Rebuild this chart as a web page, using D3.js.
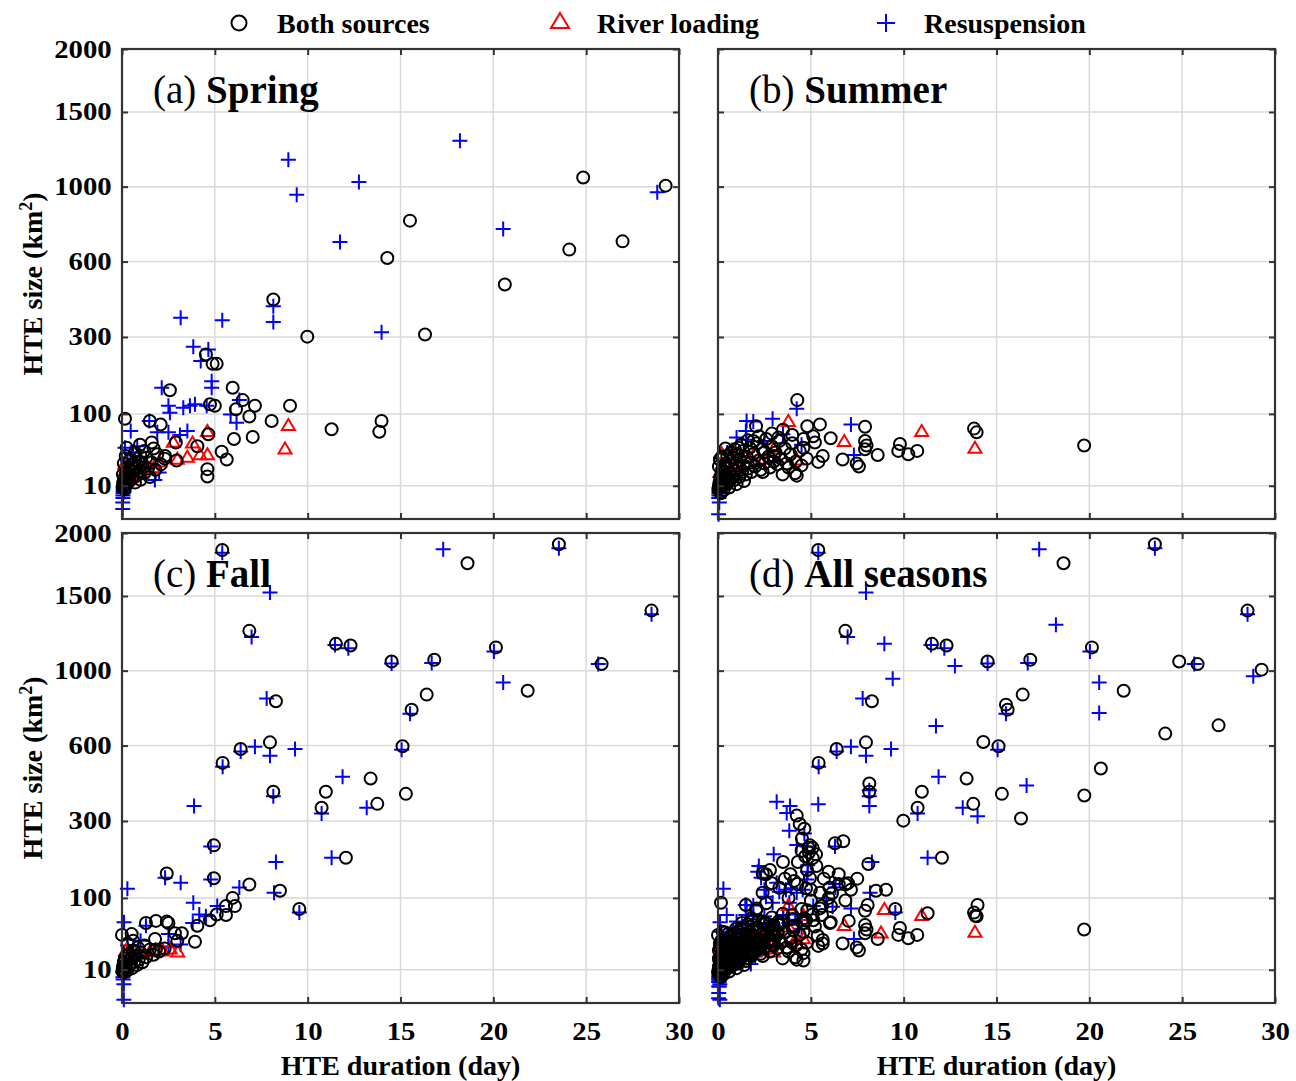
<!DOCTYPE html>
<html>
<head>
<meta charset="utf-8">
<script src="https://cdn.jsdelivr.net/npm/d3@7"></script>
<style>
  body { margin: 0; background: #fff; }
  text { font-family: "Liberation Serif", "Times New Roman", serif; }
</style>
</head>
<body>
<div id="vis"></div>
<script>
// ---- data: [duration (day), size (km2)] ----
const springBoth = [
  [15.51,806],[14.29,617],[24.84,1056],[29.28,1006],[24.09,657],[26.96,698],[20.62,498],[16.32,308],
  [8.15,436],[9.98,301],[4.52,245],[4.88,218],[5.1,218],[2.58,150],[5.96,156],[6.5,128],[7.16,116],
  [9.05,116],[4.74,119],[5.0,116],[6.14,109],[6.86,95],[8.06,87],[11.29,73],[13.98,87],[13.86,69],
  [0.16,91],[1.5,87],[2.08,81],[2.9,53],[4.65,65],[6.03,58],[7.04,61],[4.06,48],[5.37,41],[5.64,32],
  [4.6,22.5],[4.6,16.4],[2.94,31],[2.32,36],[0.97,50],[1.6,53],[0.25,46],
  [0.03,9],[0.06,12],[0.1,10],[0.12,15],[0.15,8],[0.2,13],[0.22,19],[0.25,11],[0.3,16],[0.35,22],
  [0.4,13],[0.45,18],[0.5,26],[0.55,15],[0.6,20],[0.7,12],[0.75,24],[0.8,17],[0.9,30],[0.95,21],
  [1.0,14],[1.1,27],[1.2,19],[1.3,34],[1.4,23],[1.5,16],[1.6,29],[1.8,22],[1.9,38],[2.1,27],[2.3,33],
  [0.1,28],[0.2,36],[0.4,31],[0.7,40],[1.0,36],[0.05,18],[0.3,24],[0.6,28],[1.2,42],[1.7,45]
];
const springRiver = [
  [4.6,70],[8.96,80],[8.78,45],[2.76,54],[3.8,53],[4.2,38],[4.6,38],[3.52,35],[2.98,33],
  [0.1,14],[0.2,18],[0.35,22],[0.5,16],[0.7,25],[1.0,20],[1.3,27],[1.7,24],[2.0,30],[0.15,28]
];
const springResus = [
  [8.96,1168],[9.41,952],[12.76,1028],[11.74,695],[18.2,1295],[28.83,966],[20.53,762],[8.15,410],
  [8.15,351],[3.16,367],[5.4,358],[13.98,316],[3.84,269],[4.65,260],[4.24,226],[4.83,172],[4.83,156],
  [2.14,156],[6.32,128],[4.56,116],[3.93,119],[3.66,116],[3.3,112],[2.5,116],[2.58,102],[5.85,99],
  [6.17,84],[1.47,87],[0.47,70],[1.9,68],[2.5,68],[3.52,70],[3.12,64],[2.0,19.5],[1.77,13.8],
  [0.16,46],[0.82,48],[0.3,30],[0.6,40],[1.0,35],[1.2,25],
  [0.04,2.5],[0.04,0.9],[0.05,4],[0.05,5],[0.06,6],[0.06,7],[0.07,8],[0.08,9],[0.1,6.5],[0.12,10]
];

const summerBoth = [
  [4.27,128],[2.05,78],[4.81,78],[5.49,81],[7.92,77],[13.79,74],[13.93,68],[19.72,49],[7.92,55],
  [8.0,49],[7.92,44],[9.8,51],[9.71,42],[10.25,38],[10.73,42],[8.6,37],[6.71,32],[7.47,28],[7.59,25],
  [6.07,59],[5.64,36],[5.4,29.5],[5.13,62],[5.22,53],[4.6,46],[4.78,33],[4.15,19],[4.24,17],[3.48,18],
  [2.41,20],[3.25,60],
  [0.02,8],[0.05,10],[0.08,12],[0.1,9],[0.12,15],[0.15,11],[0.18,18],[0.2,13],[0.22,22],[0.25,10],
  [0.28,16],[0.3,25],[0.33,12],[0.36,20],[0.4,14],[0.42,28],[0.45,17],[0.5,11],[0.52,23],[0.55,15],
  [0.6,30],[0.62,13],[0.66,19],[0.7,26],[0.75,16],[0.8,34],[0.85,21],[0.9,14],[0.95,28],[1.0,18],
  [1.05,38],[1.1,24],[1.15,16],[1.2,31],[1.3,20],[1.35,42],[1.4,26],[1.5,18],[1.55,35],[1.6,23],
  [1.7,46],[1.75,29],[1.8,20],[1.9,38],[2.0,25],[2.1,52],[2.2,31],[2.3,22],[2.4,44],[2.5,28],
  [2.6,58],[2.7,35],[2.8,24],[2.9,48],[3.0,30],[3.1,40],[3.2,27],[3.3,55],[3.4,33],[3.6,45],
  [3.7,28],[3.9,38],[4.0,52],[4.2,30],[4.4,42],[0.05,25],[0.1,32],[0.15,6],[0.3,7.5],[0.6,9],
  [1.0,11],[1.4,13],[0.2,35],[0.5,36],[0.9,44],[1.25,50],[1.6,56],[2.2,62],[2.9,66],[3.5,72],
  [4.0,64],[4.6,58],[0.7,40],[1.1,46],[1.9,55],[2.5,40],[3.0,36],[3.8,24],[4.5,26],[0.4,45]
];
const summerRiver = [
  [3.79,87],[10.97,70],[13.84,46],[6.8,55],[4.24,32],[0.2,39],[0.74,43],
  [0.1,20],[0.3,25],[0.5,30],[1.0,28],[1.5,35],[2.0,40],[2.5,33],[3.0,45],[0.15,15]
];
const summerResus = [
  [4.24,110],[1.54,87],[1.9,86],[2.94,91],[7.16,81],[7.32,37],[1.54,57],
  [1.0,60],[1.5,70],[2.5,55],[3.5,65],[4.5,50],[0.5,40],[3.0,30],
  [0.07,2.5],[0.03,0.2],[0.04,4],[0.05,5],[0.05,6],[0.06,7],[0.08,8],[0.1,9]
];

const fallBoth = [
  [5.4,1858],[6.86,1254],[11.52,1168],[12.31,1157],[14.52,1056],[8.29,824],[15.6,779],[15.11,597],
  [7.97,615],[6.39,584],[5.42,522],[13.39,456],[18.61,1751],[23.53,1905],[28.52,1394],[20.14,1145],
  [25.83,1040],[21.85,883],[16.82,1067],[16.41,861],[15.29,396],[10.98,404],[8.15,404],[10.75,345],
  [13.75,359],[12.06,191],[4.95,225],[2.41,152],[4.95,141],[6.86,127],[8.51,114],[9.55,80],[5.96,100],
  [6.08,85],[5.6,85],[5.6,70],[5.1,71],[4.74,62],[4.06,54],[3.93,34],[1.29,58],[1.83,61],[2.41,60],
  [2.5,58],[2.85,44],[3.22,44],[2.98,35],[0.0,42],[0.52,43],[1.78,37],[1.83,26],
  [0.02,9],[0.05,12],[0.08,10],[0.1,15],[0.12,8.5],[0.15,18],[0.18,11],[0.2,13],[0.25,20],[0.28,9.5],
  [0.3,16],[0.35,12],[0.4,22],[0.45,14],[0.5,18],[0.55,11],[0.6,25],[0.65,15],[0.7,20],[0.8,13],
  [0.85,28],[0.9,17],[1.0,23],[1.1,15],[1.2,30],[1.3,19],[1.5,26],[1.7,21],[2.0,24],[2.3,27],
  [0.3,32],[0.6,35]
];
const fallRiver = [
  [0.1,15],[0.2,25],[0.3,18],[0.6,20],[1.0,22],[1.5,24],[1.8,26],[2.2,25],[2.6,27],[3.0,24]
];
const fallResus = [
  [5.4,1836],[7.97,1525],[6.98,1212],[11.47,1160],[12.19,1140],[14.52,1044],[7.79,839],[15.51,758],
  [15.06,581],[7.16,594],[6.39,573],[7.97,554],[9.32,584],[5.42,505],[11.88,463],[17.3,1864],
  [23.53,1872],[28.52,1369],[20.03,1119],[25.65,1040],[20.53,930],[16.68,1046],[8.15,387],[3.88,351],
  [10.75,325],[13.18,345],[11.29,191],[8.29,180],[4.78,222],[2.32,142],[3.16,131],[4.78,138],
  [6.32,121],[0.29,118],[8.19,110],[9.55,74],[3.84,91],[5.13,85],[4.16,71],[4.52,68],[3.81,58],
  [0.11,59],[1.29,54],[2.5,43],[3.16,31],[2.5,29],[0.3,30],[0.6,25],[1.0,35],[0.8,20],
  [0.1,3.2],[0.1,0.1],[0.05,8.6],[0.05,6],[0.06,5]
];

// events outside spring/summer/fall (appear only in "All seasons")
const winterBoth = [
  [4.24,318],[4.65,275],[5.28,200],[6.3,231],[6.75,237],[8.1,175],[19.73,390],[4.4,290],[3.5,180],
  [2.8,160],[0.5,25],[1.0,30],[1.5,40],[2.0,45],[2.5,50],[3.0,55],[3.5,60],[1.2,20],[0.8,15],
  [2.2,35],[3.2,45],[4.0,70],[4.5,80],[3.8,100],[2.6,90],[1.8,65],[5.0,95],[5.5,110],[6.0,120],
  [4.5,210],[4.7,195],[4.9,205],[5.1,190],[4.3,180],[3.9,150],[4.1,135],[5.3,170],[3.6,140],
  [4.8,160],[2.9,130],[3.3,120],[2.4,110],[5.7,140],[6.5,150],[7.0,130],[7.5,140]
];
const winterRiver = [[1.2,30],[2.4,38]];
const winterResus = [[3.7,327],[6.3,222],[16.62,428],[3.0,200],[2.2,170]];

const xTicks = [0, 5, 10, 15, 20, 25, 30];
const yTicks = [10, 100, 300, 600, 1000, 1500, 2000];

// ---- layout ----
const svg = d3.select("#vis").append("svg")
    .attr("width", 1296)
    .attr("height", 1081);

const pw = 557, ph = 470;
const x = d3.scaleLinear().domain([0, 30]).range([0, pw]);
const y = d3.scaleSqrt().domain([0, 2000]).range([ph, 0]);

const panels = [
  {tag: "(a) ", name: "Spring", left: 122, top: 49, both: springBoth, river: springRiver, resus: springResus, xl: false, yl: true},
  {tag: "(b) ", name: "Summer", left: 718, top: 49, both: summerBoth, river: summerRiver, resus: summerResus, xl: false, yl: false},
  {tag: "(c) ", name: "Fall", left: 122, top: 533, both: fallBoth, river: fallRiver, resus: fallResus, xl: true, yl: true},
  {tag: "(d) ", name: "All seasons", left: 718, top: 533,
   both: springBoth.concat(summerBoth, fallBoth, winterBoth),
   river: springRiver.concat(summerRiver, fallRiver, winterRiver),
   resus: springResus.concat(summerResus, fallResus, winterResus), xl: true, yl: false}
];

const trianglePath = "M0,-6L6.5,5L-6.5,5Z";
const plusPath = "M-7.5,0H7.5M0,-7.5V7.5";

panels.forEach(p => {
  const g = svg.append("g").attr("transform", `translate(${p.left},${p.top})`);

  // grid
  g.append("g").selectAll("line").data(xTicks.slice(1, -1)).join("line")
      .attr("x1", d => x(d)).attr("x2", d => x(d))
      .attr("y1", 0).attr("y2", ph)
      .attr("stroke", "#d9d9d9").attr("stroke-width", 1.5);
  g.append("g").selectAll("line").data(yTicks.slice(0, -1)).join("line")
      .attr("y1", d => y(d)).attr("y2", d => y(d))
      .attr("x1", 0).attr("x2", pw)
      .attr("stroke", "#d9d9d9").attr("stroke-width", 1.5);

  // title
  const t = g.append("text").attr("x", 31).attr("y", 54)
      .attr("font-size", 39).attr("fill", "#000");
  t.append("tspan").text(p.tag);
  t.append("tspan").attr("font-weight", "bold").text(p.name);

  // markers: resuspension, river, both
  g.append("g").selectAll("path").data(p.resus).join("path")
      .attr("d", plusPath)
      .attr("transform", d => `translate(${x(d[0])},${y(d[1])})`)
      .attr("fill", "none").attr("stroke", "#0000ff").attr("stroke-width", 2);
  g.append("g").selectAll("path").data(p.river).join("path")
      .attr("d", trianglePath)
      .attr("transform", d => `translate(${x(d[0])},${y(d[1])})`)
      .attr("fill", "none").attr("stroke", "#ff0000").attr("stroke-width", 2);
  g.append("g").selectAll("circle").data(p.both).join("circle")
      .attr("cx", d => x(d[0])).attr("cy", d => y(d[1])).attr("r", 6)
      .attr("fill", "none").attr("stroke", "#000").attr("stroke-width", 2);

  // box
  g.append("rect").attr("width", pw).attr("height", ph)
      .attr("fill", "none").attr("stroke", "#333").attr("stroke-width", 2.2);

  // inward ticks on all sides
  const tickStyle = sel => {
    sel.select(".domain").remove();
    sel.selectAll(".tick line").attr("stroke", "#333").attr("stroke-width", 2);
    sel.selectAll("text").attr("font-size", 25).attr("font-weight", "bold").attr("fill", "#000")
        .attr("transform", "scale(1.15,1)");
  };
  g.append("g").attr("transform", `translate(0,${ph})`)
      .call(d3.axisBottom(x).tickValues(xTicks).tickSize(-6).tickPadding(19)
          .tickFormat(p.xl ? d3.format("d") : () => ""))
      .call(tickStyle);
  g.append("g")
      .call(d3.axisTop(x).tickValues(xTicks).tickSize(-6).tickFormat(() => ""))
      .call(tickStyle);
  g.append("g")
      .call(d3.axisLeft(y).tickValues(yTicks).tickSize(-6).tickPadding(9)
          .tickFormat(p.yl ? d3.format("d") : () => ""))
      .call(tickStyle);
  g.append("g").attr("transform", `translate(${pw},0)`)
      .call(d3.axisRight(y).tickValues(yTicks).tickSize(-6).tickFormat(() => ""))
      .call(tickStyle);

  if (p.yl) {
    const yl = g.append("text")
        .attr("transform", `translate(-80,${ph / 2}) rotate(-90)`)
        .attr("text-anchor", "middle")
        .attr("font-size", 28).attr("font-weight", "bold");
    yl.append("tspan").text("HTE size (km");
    yl.append("tspan").attr("dy", -10).attr("font-size", 18).text("2");
    yl.append("tspan").attr("dy", 10).text(")");
  }
  if (p.xl) {
    g.append("text").attr("x", pw / 2).attr("y", ph + 72)
        .attr("text-anchor", "middle")
        .attr("font-size", 28).attr("font-weight", "bold")
        .text("HTE duration (day)");
  }
});

// legend
const legend = svg.append("g").attr("font-size", 28).attr("font-weight", "bold");
legend.append("circle").attr("cx", 239).attr("cy", 23).attr("r", 7.5)
    .attr("fill", "none").attr("stroke", "#000").attr("stroke-width", 2);
legend.append("text").attr("x", 277).attr("y", 33).text("Both sources");
legend.append("path").attr("d", "M0,-8L9,7L-9,7Z").attr("transform", "translate(560,21)")
    .attr("fill", "none").attr("stroke", "#ff0000").attr("stroke-width", 2);
legend.append("text").attr("x", 597).attr("y", 33).text("River loading");
legend.append("path").attr("d", "M-9,0H9M0,-9V9").attr("transform", "translate(886,23)")
    .attr("fill", "none").attr("stroke", "#0000ff").attr("stroke-width", 2);
legend.append("text").attr("x", 924).attr("y", 33).text("Resuspension");
</script>
</body>
</html>
